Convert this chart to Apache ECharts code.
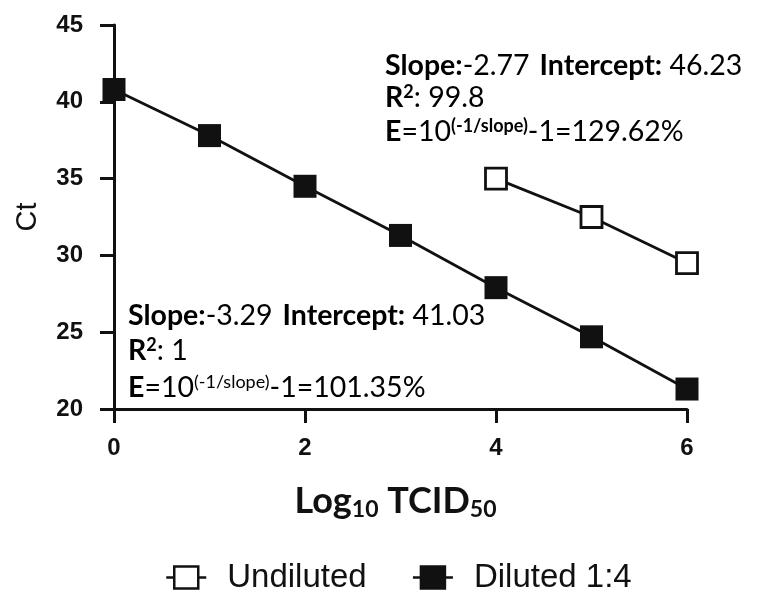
<!DOCTYPE html>
<html>
<head>
<meta charset="utf-8">
<script src="https://cdn.jsdelivr.net/npm/echarts@6/dist/echarts.min.js"></script>
<style>
html,body{margin:0;padding:0;background:#fff;}
#chart{width:757px;height:590px;}
</style>
</head>
<body>
<div id="chart"></div>
<script>
// Data
var xUndiluted = [4, 5, 6];
var yUndiluted = [35.0, 32.5, 29.5];
var xDiluted = [0, 1, 2, 3, 4, 5, 6];
var yDiluted = [40.8, 37.8, 34.5, 31.3, 27.9, 24.7, 21.3];
var seriesNames = ['Undiluted', 'Diluted 1:4'];
var yTicks = [20, 25, 30, 35, 40, 45];
var xTicks = [0, 2, 4, 6];

function pairs(xs, ys) { return xs.map(function (x, i) { return [x, ys[i]]; }); }

var chart = echarts.init(document.getElementById('chart'));
var calibri = 'Lato, "Open Sans", sans-serif';
var arial = '"Liberation Sans", Arial, sans-serif';
var rich = {
  b: { fontFamily: calibri, fontWeight: 'bold', fontSize: 28.5, color: '#111', lineHeight: 30 },
  r: { fontFamily: calibri, fontWeight: 'normal', fontSize: 28.5, color: '#333', lineHeight: 30 },
  sb: { fontFamily: calibri, fontWeight: 'bold', fontSize: 18, color: '#111', verticalAlign: 'top', lineHeight: 30, padding: [0, 0, 12, 0] },
  sr: { fontFamily: calibri, fontWeight: 'normal', fontSize: 18, color: '#333', verticalAlign: 'top', lineHeight: 30, padding: [0, 0, 12, 0] }
};
function txt(left, top, s) {
  return { type: 'text', left: left, top: top, style: { text: s, rich: rich } };
}
var legendIcon = 'path://M0,12L8,12M8,1L32,1L32,23L8,23ZM32,12L40,12';

chart.setOption({
  animation: false,
  backgroundColor: '#fff',
  grid: { left: 114, right: 70, top: 25, bottom: 181 },
  xAxis: {
    type: 'value', min: 0, max: 6, interval: 2,
    name: '{a|Log}{s|10}{a| TCID}{s|50}',
    nameLocation: 'middle', nameGap: 72,
    nameTextStyle: {
      padding: [0, 10, 0, 0],
      rich: {
        a: { fontFamily: calibri, fontWeight: 'bold', fontSize: 36, color: '#111' },
        s: { fontFamily: calibri, fontWeight: 'bold', fontSize: 23, color: '#111', verticalAlign: 'bottom', padding: [17, 0, 0, 0] }
      }
    },
    axisLine: { show: true, onZero: false, lineStyle: { color: '#111', width: 3 } },
    axisTick: { show: true, length: 14, lineStyle: { color: '#111', width: 3 } },
    axisLabel: { fontFamily: arial, fontWeight: 'bold', fontSize: 24, color: '#111', margin: 27 },
    splitLine: { show: false }
  },
  yAxis: {
    type: 'value', min: 20, max: 45, interval: 5,
    name: 'Ct', nameLocation: 'middle', nameGap: 72,
    nameTextStyle: { fontFamily: arial, fontSize: 29, color: '#111' },
    axisLine: { show: true, onZero: false, lineStyle: { color: '#111', width: 3 } },
    axisTick: { show: true, length: 14, lineStyle: { color: '#111', width: 3 } },
    axisLabel: { fontFamily: arial, fontWeight: 'bold', fontSize: 24, color: '#111', margin: 31 },
    splitLine: { show: false }
  },
  legend: {
    top: 556, left: 160, itemGap: 45, itemWidth: 40, itemHeight: 24,
    textStyle: { fontFamily: arial, fontSize: 33, color: '#111', padding: [0, 0, 0, 16] },
    data: [
      { name: seriesNames[0], icon: legendIcon, itemStyle: { color: '#fff', borderColor: '#111', borderWidth: 2.5 } },
      { name: seriesNames[1], icon: legendIcon, itemStyle: { color: '#111', borderColor: '#111', borderWidth: 2.5 } }
    ]
  },
  series: [
    {
      name: seriesNames[0], type: 'line', data: pairs(xUndiluted, yUndiluted),
      symbol: 'rect', symbolSize: 21,
      lineStyle: { color: '#111', width: 2.8 },
      itemStyle: { color: '#fff', borderColor: '#111', borderWidth: 2.8 }
    },
    {
      name: seriesNames[1], type: 'line', data: pairs(xDiluted, yDiluted),
      symbol: 'rect', symbolSize: 23,
      lineStyle: { color: '#111', width: 2.8 },
      itemStyle: { color: '#111', borderColor: '#111', borderWidth: 0 }
    }
  ],
  graphic: [
    txt(385, 51, '{b|Slope:}{r|-2.77}   {b|Intercept:}{r| 46.23}'),
    txt(385, 83, '{b|R}{sb|2}{r|: 99.8}'),
    txt(385, 117, '{b|E}{r|=10}{sb|(-1/slope)}{r|-1=129.62%}'),
    txt(128, 301, '{b|Slope:}{r|-3.29}   {b|Intercept:}{r| 41.03}'),
    txt(128, 336, '{b|R}{sb|2}{r|: 1}'),
    txt(128, 373, '{b|E}{r|=10}{sr|(-1/slope)}{r|-1=101.35%}')
  ]
});
</script>
</body>
</html>
